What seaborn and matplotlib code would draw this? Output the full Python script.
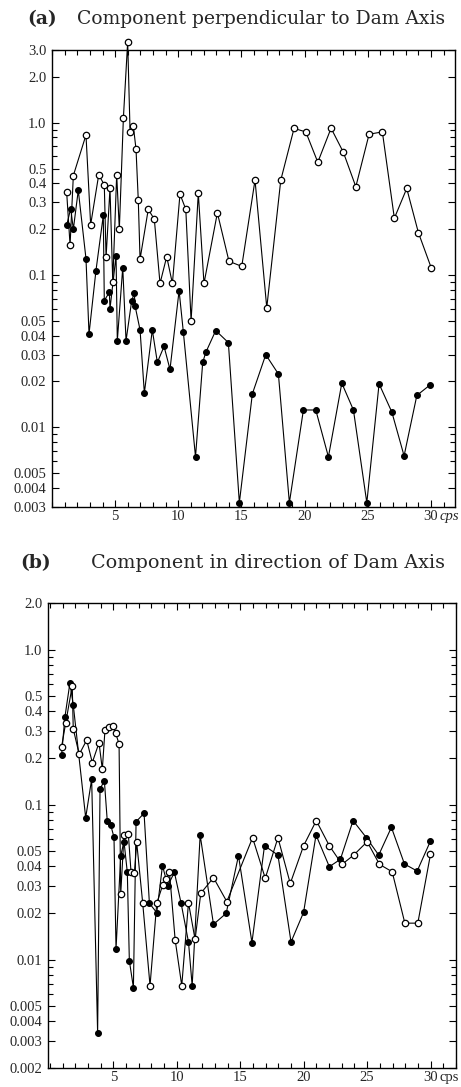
import numpy as np
import pandas as pd
import matplotlib
matplotlib.use("Agg")
import matplotlib.pyplot as plt
import seaborn as sns
from matplotlib.ticker import FixedLocator, FixedFormatter, NullFormatter, MultipleLocator, LogLocator

# ---------------- data ----------------
# (a) Component perpendicular to Dam Axis
a_open_f = [1.16, 1.43, 1.69, 2.69, 3.06, 3.70, 4.14, 4.28, 4.59, 4.81, 5.12, 5.33, 5.65, 5.99, 6.18,
            6.44, 6.65, 6.83, 6.97, 7.62, 8.10, 8.55, 9.08, 9.53, 10.13, 10.59, 11.01, 11.58, 12.03,
            13.09, 14.01, 15.02, 16.07, 17.0, 18.11, 19.16, 20.09, 21.04, 22.09, 23.06, 24.05, 25.10,
            26.15, 27.10, 28.08, 29.0, 30.01]
a_open_v = [0.35, 0.157, 0.45, 0.83, 0.214, 0.456, 0.39, 0.131, 0.37, 0.09, 0.456, 0.20, 1.07, 3.4, 0.87,
            0.95, 0.67, 0.31, 0.127, 0.27, 0.232, 0.088, 0.132, 0.088, 0.34, 0.27, 0.05, 0.345, 0.088,
            0.256, 0.123, 0.114, 0.42, 0.061, 0.42, 0.917, 0.87, 0.55, 0.92, 0.64, 0.38, 0.84,
            0.87, 0.236, 0.37, 0.19, 0.112]
a_fill_f = [1.16, 1.48, 1.69, 2.08, 2.69, 2.93, 3.48, 4.06, 4.14, 4.54, 4.59, 5.07, 5.17, 5.60, 5.86,
            6.31, 6.52, 6.57, 6.97, 7.31, 7.94, 8.34, 8.87, 9.34, 10.06, 10.40, 11.36, 11.93, 12.17,
            12.96, 13.96, 14.83, 15.86, 16.92, 17.92, 18.79, 19.90, 20.88, 21.88, 22.94, 23.86, 24.92,
            25.89, 26.90, 27.87, 28.88, 29.93]
a_fill_v = [0.212, 0.273, 0.20, 0.36, 0.128, 0.041, 0.107, 0.246, 0.068, 0.077, 0.06, 0.134, 0.037, 0.112, 0.037,
            0.068, 0.076, 0.063, 0.0436, 0.0168, 0.0436, 0.0267, 0.034, 0.024, 0.079, 0.042, 0.0064, 0.0267, 0.031,
            0.0432, 0.036, 0.0032, 0.0166, 0.030, 0.0224, 0.0032, 0.013, 0.013, 0.0064, 0.0195, 0.013, 0.0032,
            0.0193, 0.0126, 0.0065, 0.0162, 0.019]

# (b) Component in direction of Dam Axis
b_open_f = [0.92, 1.24, 1.76, 1.84, 2.31, 2.90, 3.34, 3.87, 4.13, 4.34, 4.66, 4.95, 5.19, 5.45, 5.58,
            5.84, 6.18, 6.39, 6.66, 6.84, 7.31, 7.89, 8.42, 8.89, 9.16, 9.42, 9.87, 10.39, 10.92, 11.44,
            11.89, 12.89, 13.94, 15.97, 16.97, 17.97, 18.94, 19.99, 20.99, 22.02, 23.02, 23.94, 25.0,
            25.97, 26.97, 27.97, 28.99, 29.99]
b_open_v = [0.236, 0.335, 0.584, 0.308, 0.211, 0.261, 0.187, 0.251, 0.169, 0.303, 0.316, 0.323, 0.288, 0.246, 0.0265,
            0.0637, 0.0647, 0.0369, 0.0364, 0.057, 0.0233, 0.0068, 0.0231, 0.0303, 0.033, 0.0369, 0.0134, 0.0068, 0.0233, 0.0135,
            0.0268, 0.0338, 0.0237, 0.0612, 0.0335, 0.0612, 0.031, 0.0543, 0.0789, 0.0543, 0.0412, 0.0473, 0.0577,
            0.0412, 0.0369, 0.0172, 0.0172, 0.0478]
b_fill_f = [0.92, 1.18, 1.58, 1.84, 2.82, 3.29, 3.76, 3.95, 4.29, 4.52, 4.79, 5.05, 5.21, 5.58, 5.84,
            6.10, 6.26, 6.58, 6.79, 7.42, 7.84, 8.42, 8.87, 9.29, 9.81, 10.34, 10.92, 11.21, 11.84, 12.89,
            13.89, 14.86, 15.92, 16.91, 17.97, 19.0, 19.99, 20.97, 22.02, 22.89, 23.89, 24.94, 25.91,
            26.91, 27.94, 28.94, 29.99]
b_fill_v = [0.209, 0.366, 0.612, 0.44, 0.0824, 0.146, 0.00338, 0.126, 0.143, 0.0785, 0.074, 0.0616, 0.0117, 0.0469, 0.0577,
            0.0366, 0.00985, 0.0066, 0.0776, 0.088, 0.0231, 0.0201, 0.0404, 0.030, 0.0366, 0.0231, 0.013, 0.0068, 0.0637, 0.0169,
            0.0199, 0.0469, 0.0129, 0.0543, 0.0473, 0.013, 0.0202, 0.0637, 0.0398, 0.0444, 0.0789, 0.0612, 0.0473,
            0.0714, 0.0414, 0.0373, 0.0583]

a_yticks = [3.0, 2.0, 1.0, 0.5, 0.4, 0.3, 0.2, 0.1, 0.05, 0.04, 0.03, 0.02, 0.01, 0.005, 0.004, 0.003]
a_ylabels = ["3.0", "2.0", "1.0", "0.5", "0.4", "0.3", "0.2", "0.1", "0.05", "0.04", "0.03", "0.02",
             "0.01", "0.005", "0.004", "0.003"]
b_yticks = [2.0, 1.0, 0.5, 0.4, 0.3, 0.2, 0.1, 0.05, 0.04, 0.03, 0.02, 0.01, 0.005, 0.004, 0.003, 0.002]
b_ylabels = ["2.0", "1.0", "0.5", "0.4", "0.3", "0.2", "0.1", "0.05", "0.04", "0.03", "0.02", "0.01",
             "0.005", "0.004", "0.003", "0.002"]
x_ticks = [5, 10, 15, 20, 25, 30]
x_labels = ["5", "10", "15", "20", "25", "30"]
x_unit = "cps"
title_a = ("(a)", "Component perpendicular to Dam Axis")
title_b = ("(b)", "Component in direction of Dam Axis")

# ---------------- figure ----------------
sns.set_style("white")
plt.rcParams["font.family"] = ["Liberation Serif", "DejaVu Serif"]

W, H = 461, 1087
fig = plt.figure(figsize=(W / 100, H / 100), dpi=100)
fig.patch.set_facecolor("white")


def px_axes(l, t, r, b):
    return fig.add_axes([l / W, 1 - b / H, (r - l) / W, (b - t) / H])


def draw_panel(ax, of, ov, ff, fv, xlim, ylim, yticks, ylabels, unit_style):
    dfo = pd.DataFrame({"f": of, "v": ov})
    dff = pd.DataFrame({"f": ff, "v": fv})
    sns.lineplot(data=dff, x="f", y="v", ax=ax, sort=False, estimator=None, color="black",
                 lw=0.8, marker="o", markersize=4.2, markerfacecolor="black",
                 markeredgecolor="black", markeredgewidth=0.8, clip_on=False, zorder=3)
    sns.lineplot(data=dfo, x="f", y="v", ax=ax, sort=False, estimator=None, color="black",
                 lw=0.8, marker="o", markersize=4.6, markerfacecolor="white",
                 markeredgecolor="black", markeredgewidth=0.9, clip_on=False, zorder=4)
    ax.set_yscale("log")
    ax.set_xlim(*xlim)
    ax.set_ylim(*ylim)
    ax.set_xlabel("")
    ax.set_ylabel("")
    ax.xaxis.set_major_locator(FixedLocator(x_ticks))
    ax.xaxis.set_major_formatter(FixedFormatter(x_labels))
    ax.xaxis.set_minor_locator(MultipleLocator(1))
    ax.yaxis.set_major_locator(FixedLocator(yticks))
    ax.yaxis.set_major_formatter(FixedFormatter(ylabels))
    ax.yaxis.set_minor_locator(LogLocator(base=10, subs=np.arange(2, 10), numticks=20))
    ax.yaxis.set_minor_formatter(NullFormatter())
    ax.tick_params(which="both", direction="in", top=True, right=True, bottom=True, left=True,
                   color="black", width=0.8)
    ax.tick_params(which="major", length=5)
    ax.tick_params(which="minor", length=3.5)
    ax.tick_params(axis="x", which="major", labelsize=10.5, pad=2.5)
    ax.tick_params(axis="y", which="major", labelsize=10.5, pad=4)
    for s in ax.spines.values():
        s.set_color("black")
        s.set_linewidth(1.0)
        s.set_visible(True)
    ax.set_facecolor("white")
    ax.annotate(x_unit, xy=(30, 0), xycoords=("data", "axes fraction"), xytext=(6.5, -2.5),
                textcoords="offset points", ha="left", va="top", fontsize=10.5, style=unit_style)


ax_a = px_axes(52, 50, 455, 507)
draw_panel(ax_a, a_open_f, a_open_v, a_fill_f, a_fill_v, (0, 31.9), (0.003, 3.0), a_yticks, a_ylabels, "italic")

ax_b = px_axes(48, 603, 456, 1068)
draw_panel(ax_b, b_open_f, b_open_v, b_fill_f, b_fill_v, (-0.15, 32.0), (0.002, 2.0), b_yticks, b_ylabels, "normal")

title_font = ["DejaVu Serif"]
fig.text(27 / W, 1 - 24 / H, title_a[0], fontsize=13.5, fontweight="bold", family=title_font, va="baseline", ha="left")
fig.text(77 / W, 1 - 24 / H, title_a[1], fontsize=13.5, family=title_font, va="baseline", ha="left")
fig.text(20 / W, 1 - 568 / H, title_b[0], fontsize=13.5, fontweight="bold", family=title_font, va="baseline", ha="left")
fig.text(91 / W, 1 - 568 / H, title_b[1], fontsize=13.8, family=title_font, va="baseline", ha="left")

fig.savefig("out.png", dpi=100, facecolor="white")
